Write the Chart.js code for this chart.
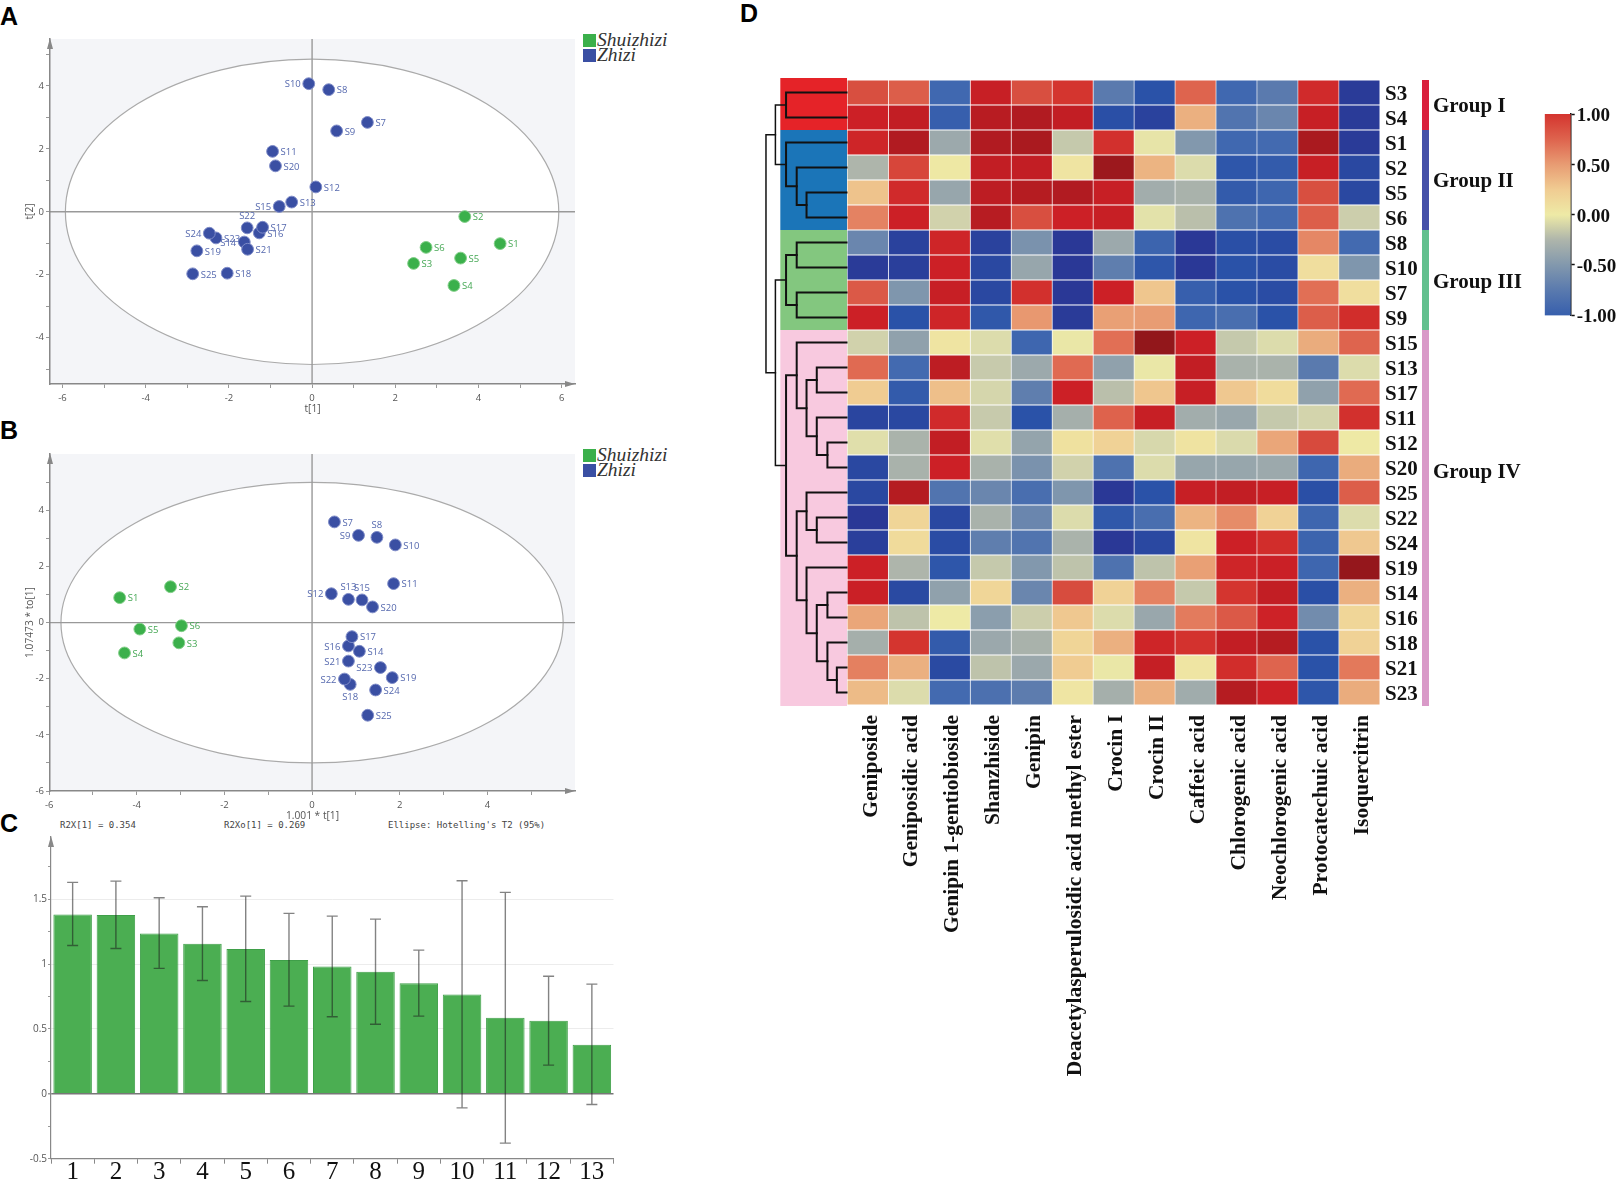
<!DOCTYPE html>
<html>
<head>
<meta charset="utf-8">
<title>PCA, VIP and heatmap</title>
<script src="https://cdn.jsdelivr.net/npm/chart.js@4/dist/chart.umd.js"></script>
<style>
  html, body { margin: 0; padding: 0; background: #fff; overflow: hidden; }
  #page { position: relative; width: 1617px; height: 1181px; overflow: hidden; }
  canvas { position: absolute; }
  .letter { position: absolute; left: 0; font: bold 25px/1 "Liberation Sans"; color: #000; }
  .swatch { position: absolute; left: 583px; width: 13px; height: 13px; }
  .leg { position: absolute; left: 597px; font: italic 19.5px/1 "Liberation Serif"; color: #333; }
  .foot { position: absolute; top: 821px; font: 9px/1.1 "DejaVu Sans Mono"; color: #444; white-space: pre; }
</style>
</head>
<body>
<div id="page">
  <div class="letter" style="top:4px">A</div>
  <div class="letter" style="top:418px">B</div>
  <div class="letter" style="top:811px">C</div>
  <div class="letter" style="top:1px;left:740px">D</div>

  <div class="swatch" style="top:34px;background:#3bb04b"></div>
  <div class="leg" style="top:30px">Shuizhizi</div>
  <div class="swatch" style="top:49px;background:#3a4fa3"></div>
  <div class="leg" style="top:45px">Zhizi</div>
  <div class="swatch" style="top:449px;background:#3bb04b"></div>
  <div class="leg" style="top:445px">Shuizhizi</div>
  <div class="swatch" style="top:464px;background:#3a4fa3"></div>
  <div class="leg" style="top:460px">Zhizi</div>

  <div class="foot" style="left:60px">R2X[1] = 0.354</div>
  <div class="foot" style="left:224px">R2Xo[1] = 0.269</div>
  <div class="foot" style="left:388px">Ellipse: Hotelling's T2 (95%)</div>

  <canvas id="chartA" width="640" height="390" style="left:24px;top:25px"></canvas>
  <canvas id="chartB" width="640" height="382" style="left:24px;top:440px"></canvas>
  <canvas id="chartC" width="620" height="351" style="left:20px;top:830px"></canvas>
  <canvas id="chartD" width="780" height="1060" style="left:760px;top:60px"></canvas>
  <canvas id="chartBar" width="117" height="230" style="left:1500px;top:100px"></canvas>
</div>

<script>
// samples in the score plots (first six are Shuizhizi)
const sampleNames = ['S1','S2','S3','S4','S5','S6','S7','S8','S9','S10','S11','S12','S13','S14','S15','S16','S17','S18','S19','S20','S21','S22','S23','S24','S25'];

// panel A: t[1], t[2]
const aT1 = [4.52,3.67,2.44,3.41,3.57,2.74,1.33,0.40,0.59,-0.08,-0.95,0.09,-0.49,-1.63,-0.79,-1.27,-1.19,-2.04,-2.77,-0.88,-1.55,-1.56,-2.31,-2.47,-2.87];
const aT2 = [-1.01,-0.15,-1.64,-2.34,-1.47,-1.13,2.84,3.88,2.57,4.07,1.92,0.79,0.31,-0.96,0.17,-0.67,-0.49,-1.95,-1.24,1.46,-1.19,-0.51,-0.83,-0.68,-1.97];
const aEllipse = [5.93, 4.85];
const aLabelSide = { S10:'left', S15:'left', S22:'top', S24:'left', S14:'left' };

// panel B: 1.001*t[1], 1.07473*to[1]
const bT1 = [-4.39,-3.23,-3.04,-4.28,-3.93,-2.98,0.51,1.48,1.06,1.90,1.86,0.44,0.83,1.08,1.14,0.83,0.91,0.87,1.83,1.38,0.83,0.74,1.56,1.45,1.27];
const bTo = [0.89,1.28,-0.72,-1.08,-0.23,-0.11,3.59,3.04,3.11,2.77,1.39,1.03,0.83,-1.02,0.81,-0.83,-0.50,-2.20,-1.96,0.56,-1.37,-2.01,-1.60,-2.40,-3.30];
const bEllipse = [5.73, 5.00];
const bLabelSide = { S12:'left', S9:'left', S16:'left', S21:'left', S23:'left', S22:'left', S8:'top', S13:'top', S15:'top', S18:'bottom' };

// panel C: VIP bars with error bars
const barLabels = ['1','2','3','4','5','6','7','8','9','10','11','12','13'];
const barValues = [1.383,1.378,1.237,1.157,1.116,1.031,0.982,0.941,0.853,0.766,0.586,0.563,0.378];
const errUpper = [1.63,1.64,1.512,1.442,1.524,1.391,1.37,1.347,1.108,1.643,1.553,0.907,0.846];
const errLower = [1.144,1.121,0.967,0.874,0.712,0.676,0.594,0.537,0.599,-0.108,-0.38,0.221,-0.082];

// panel D: heatmap
const heatCols = ['Geniposide','Geniposidic acid','Genipin 1-gentiobioside','Shanzhiside','Genipin','Deacetylasperulosidic acid methyl ester','Crocin I','Crocin II','Caffeic acid','Chlorogenic acid','Neochlorogenic acid','Protocatechuic acid','Isoquercitrin'];
const heatRows = ['S3','S4','S1','S2','S5','S6','S8','S10','S7','S9','S15','S13','S17','S11','S12','S20','S25','S22','S24','S19','S14','S16','S18','S21','S23'];
const heatValues = [
  [0.85,0.78,-0.9,1.25,0.85,1.0,-0.75,-1.15,0.75,-0.9,-0.75,1.1,-1.5],
  [1.2,1.3,-1.0,1.4,1.5,1.3,-1.2,-1.4,0.4,-0.8,-0.65,1.25,-1.5],
  [1.15,1.5,-0.35,1.5,1.6,-0.15,1.05,-0.02,-0.5,-0.9,-0.88,1.6,-1.5],
  [-0.25,0.9,0.02,1.3,1.3,0.05,1.8,0.38,-0.05,-1.1,-1.05,1.25,-1.3],
  [0.3,1.1,-0.38,1.35,1.45,1.5,1.25,-0.32,-0.28,-1.05,-0.92,0.85,-1.3],
  [0.62,1.2,-0.1,1.42,0.85,1.2,1.25,-0.03,-0.2,-0.82,-0.88,0.78,-0.12],
  [-0.65,-1.4,1.15,-1.4,-0.55,-1.55,-0.35,-0.95,-1.55,-1.2,-1.25,0.6,-0.88],
  [-1.5,-1.45,1.2,-1.3,-0.38,-1.55,-0.72,-1.1,-1.55,-1.15,-1.25,0.1,-0.52],
  [0.8,-0.52,1.25,-1.3,1.05,-1.55,1.2,0.28,-1.0,-1.15,-1.25,0.7,0.1],
  [1.2,-1.15,1.15,-1.08,0.52,-1.5,0.48,0.5,-0.92,-0.85,-1.15,0.78,1.08],
  [-0.1,-0.42,0.05,-0.05,-0.92,-0.01,0.7,1.95,1.2,-0.15,-0.05,0.42,0.75],
  [0.72,-0.88,1.35,-0.14,-0.35,0.72,-0.42,-0.01,1.3,-0.28,-0.27,-0.75,-0.05],
  [0.25,-1.05,0.32,-0.08,-0.72,1.2,-0.2,0.28,1.25,0.27,0.12,-0.42,0.72],
  [-1.35,-1.3,1.1,-0.14,-1.15,-0.3,0.76,1.25,-0.32,-0.37,-0.15,-0.09,1.05],
  [-0.04,-0.27,1.3,-0.04,-0.4,0.08,0.2,-0.07,0.06,-0.06,0.45,0.88,0.01],
  [-1.3,-0.28,1.2,-0.28,-0.55,-0.1,-0.82,-0.05,-0.38,-0.38,-0.35,-0.92,0.42],
  [-1.3,1.45,-0.8,-0.65,-0.85,-0.52,-1.55,-1.15,1.25,1.3,1.25,-1.2,0.78],
  [-1.55,0.18,-1.3,-0.28,-0.65,-0.05,-1.08,-0.85,0.38,0.58,0.2,-0.92,-0.05],
  [-1.45,0.13,-1.25,-0.72,-0.8,-0.27,-1.55,-1.3,0.05,1.2,1.08,-0.95,0.27],
  [1.2,-0.25,-1.1,-0.15,-0.5,-0.18,-0.82,-0.18,0.48,1.15,1.22,-0.92,1.9],
  [1.22,-1.28,-0.42,0.17,-0.65,0.87,0.2,0.62,-0.15,1.0,1.3,-1.2,0.4],
  [0.45,-0.18,0,-0.45,-0.12,0.27,-0.05,-0.37,0.65,0.8,1.18,-0.6,0.17],
  [-0.3,1.0,-1.05,-0.36,-0.28,0.18,0.4,1.15,1.03,1.3,1.45,-1.15,0.2],
  [0.63,0.4,-1.28,-0.18,-0.36,0.25,-0.01,1.27,0.04,1.08,0.75,-1.15,0.66],
  [0.34,-0.05,-0.88,-0.83,-0.73,0.04,-0.3,0.4,-0.33,1.45,1.2,-1.1,0.42]
];

// row groups beside the heatmap
const groupNames = ['Group I','Group II','Group III','Group IV'];
const groupFirst = [0,2,6,10];
const groupLast = [1,5,9,24];
const groupLabelRow = [0.5,3.5,7.54,15.14];
const groupBlock = ['#e52328','#1b75b8','#83c77f','#f8c9df'];
const groupStrip = ['#d91f3c','#4550a8','#62c08e','#d99ac8'];

// dendrogram: [height, child, child], a number is a row of heatRows
const tree = [-1.99,
  [-1.76,
    [-1.5, 0, 1],
    [-1.5, 2, [-1.24, 3, [-1.0, 4, 5]]]],
  [-1.76,
    [-1.5, [-1.24, 6, 7], [-1.24, 8, 9]],
    [-1.5,
      [-1.24, 10, [-1.0, [-0.75, 11, 12], [-0.75, 13, [-0.49, 14, 15]]]],
      [-1.24,
        [-1.0, 16, [-0.75, 17, 18]],
        [-1.0, 19, [-0.75, [-0.49, 20, 21], [-0.49, 22, [-0.26, 23, 24]]]]]]]];

// colour scale of the heatmap
const scaleValues = [-1.55,-1.15,-0.9,-0.75,-0.5,-0.25,-0.05,0,0.12,0.25,0.4,0.58,0.72,0.85,1,1.2,1.4,1.95];
const scaleColors = ['#2a3896','#2a52a8','#4068b0','#5a7aae','#8298ad','#aeb5ab','#dcdcac','#eeeaa6','#f0dc9c','#f0cc92','#ebb080','#e68c68','#e06a52','#d84f40','#d4352f','#cc2026','#b81c22','#92171b'];

function heatColor(v) {
  let i = 0;
  while (i < scaleValues.length - 2 && v > scaleValues[i + 1]) i++;
  const t = Math.min(1, Math.max(0, (v - scaleValues[i]) / (scaleValues[i + 1] - scaleValues[i])));
  const a = scaleColors[i], b = scaleColors[i + 1];
  const ch = p => Math.round(parseInt(a.substr(p, 2), 16) * (1 - t) + parseInt(b.substr(p, 2), 16) * t);
  return `rgb(${ch(1)},${ch(3)},${ch(5)})`;
}

const smallFont = { family: 'Open Sans', size: 9.5 };
const titleFont = { family: 'Open Sans', size: 10.2 };
const green = '#3bb04b', blue = '#3a4fa3';

// background, ellipse, zero lines, arrows and sample labels of the score plots
const scorePlot = {
  id: 'scorePlot',
  beforeDraw(chart, args, opts) {
    const { ctx, chartArea: a, scales: { x, y } } = chart;
    const cx = x.getPixelForValue(0), cy = y.getPixelForValue(0);
    ctx.save();
    ctx.fillStyle = '#f4f5f8';
    ctx.fillRect(a.left, a.top, a.right - a.left, a.bottom - a.top);
    ctx.beginPath();
    ctx.ellipse(cx, cy, x.getPixelForValue(opts.ellipse[0]) - cx, cy - y.getPixelForValue(opts.ellipse[1]), 0, 0, Math.PI * 2);
    ctx.fillStyle = '#fff';
    ctx.fill();
    ctx.strokeStyle = '#aaa';
    ctx.lineWidth = 1.2;
    ctx.stroke();
    ctx.strokeStyle = '#999';
    ctx.lineWidth = 1.4;
    ctx.beginPath();
    ctx.moveTo(a.left, cy); ctx.lineTo(a.right, cy);
    ctx.moveTo(cx, a.top); ctx.lineTo(cx, a.bottom);
    ctx.stroke();
    ctx.restore();
  },
  afterDatasetsDraw(chart, args, opts) {
    const { ctx, chartArea: a } = chart;
    ctx.save();
    axisArrows(ctx, a, true);
    ctx.font = '9.5px "Open Sans"';
    chart.data.datasets.forEach((ds, d) => {
      ctx.fillStyle = ds.textColor;
      chart.getDatasetMeta(d).data.forEach((pt, i) => {
        const name = ds.names[i], side = opts.sides[name] || 'right';
        let tx = pt.x + 8, ty = pt.y + 1;
        ctx.textBaseline = 'middle';
        ctx.textAlign = 'left';
        if (side === 'left') { tx = pt.x - 8; ctx.textAlign = 'right'; }
        if (side === 'top') { tx = pt.x; ty = pt.y - 12; ctx.textAlign = 'center'; }
        if (side === 'bottom') { tx = pt.x; ty = pt.y + 13; ctx.textAlign = 'center'; }
        ctx.fillText(name, tx, ty);
      });
    });
    ctx.restore();
  }
};

function axisArrows(ctx, a, both) {
  ctx.fillStyle = '#888';
  ctx.beginPath();
  ctx.moveTo(a.left, a.top - 1); ctx.lineTo(a.left - 3, a.top + 10); ctx.lineTo(a.left + 3, a.top + 10);
  ctx.closePath();
  if (both) {
    ctx.moveTo(a.right, a.bottom); ctx.lineTo(a.right - 10, a.bottom - 3); ctx.lineTo(a.right - 10, a.bottom + 3);
    ctx.closePath();
  }
  ctx.fill();
}

function scoreChart(id, xs, ys, cfg) {
  const makeData = (from, to) => xs.slice(from, to).map((v, i) => ({ x: v, y: ys[from + i] }));
  const dataset = (label, from, to, fill, edge, text) => ({
    label, data: makeData(from, to), names: sampleNames.slice(from, to),
    backgroundColor: fill, borderColor: edge, borderWidth: 1, pointRadius: 5.9, textColor: text
  });
  return new Chart(document.getElementById(id), {
    type: 'scatter',
    data: { datasets: [
      dataset('Shuizhizi', 0, 6, green, '#82cf88', '#46a855'),
      dataset('Zhizi', 6, 25, blue, '#7f8cc8', '#5568ae')
    ] },
    plugins: [scorePlot],
    options: {
      responsive: false,
      animation: false,
      layout: { padding: { top: cfg.padTop, right: 89, left: 0, bottom: 0 } },
      plugins: {
        legend: { display: false }, tooltip: { enabled: false },
        scorePlot: { ellipse: cfg.ellipse, sides: cfg.sides }
      },
      scales: {
        x: {
          min: cfg.xMin, max: cfg.xMax,
          afterBuildTicks: ax => { ax.ticks = cfg.xTicks.map(v => ({ value: v })); },
          afterFit: ax => { ax.height = cfg.xHeight; },
          title: { display: true, text: cfg.xTitle, color: '#555', font: titleFont, padding: 0 },
          grid: { drawOnChartArea: false, tickLength: 4, tickColor: '#999' },
          border: { color: '#888', width: 1.5 },
          ticks: { color: '#555', font: smallFont, padding: 5, autoSkip: false, maxRotation: 0, callback: v => (v % 2 === 0 ? v : '') }
        },
        y: {
          min: cfg.yMin, max: cfg.yMax,
          afterBuildTicks: ax => { ax.ticks = cfg.yTicks.map(v => ({ value: v })); },
          afterFit: ax => { ax.width = 26; },
          title: { display: true, text: cfg.yTitle, color: '#555', font: titleFont, padding: 0 },
          grid: { drawOnChartArea: false, tickLength: 4, tickColor: '#999' },
          border: { color: '#888', width: 1.5 },
          ticks: { color: '#555', font: smallFont, padding: 2, autoSkip: false, callback: v => (v % 2 === 0 ? v : '') }
        }
      }
    }
  });
}

scoreChart('chartA', aT1, aT2, {
  padTop: 14, xHeight: 31, xMin: -6.3, xMax: 6.32, yMin: -5.47, yMax: 5.49,
  xTicks: [-6,-5,-4,-3,-2,-1,0,1,2,3,4,5,6], yTicks: [-5,-4,-3,-2,-1,0,1,2,3,4,5],
  xTitle: 't[1]', yTitle: 't[2]', ellipse: aEllipse, sides: aLabelSide
});

scoreChart('chartB', bT1, bTo, {
  padTop: 14, xHeight: 31, xMin: -5.98, xMax: 6.0, yMin: -6, yMax: 6.01,
  xTicks: [-6,-5,-4,-3,-2,-1,0,1,2,3,4,5], yTicks: [-6,-5,-4,-3,-2,-1,0,1,2,3,4,5],
  xTitle: '1.001 * t[1]', yTitle: '1.07473 * to[1]', ellipse: bEllipse, sides: bLabelSide
});

// error bars and arrow of panel C
const errorBars = {
  id: 'errorBars',
  afterDatasetsDraw(chart) {
    const { ctx, chartArea: a, scales: { x, y } } = chart;
    ctx.save();
    ctx.strokeStyle = 'rgba(30,30,30,0.55)';
    ctx.lineWidth = 1.4;
    barValues.forEach((v, i) => {
      const px = x.getPixelForValue(i), up = y.getPixelForValue(errUpper[i]), lo = y.getPixelForValue(errLower[i]);
      ctx.beginPath();
      ctx.moveTo(px, up); ctx.lineTo(px, lo);
      ctx.moveTo(px - 5.5, up); ctx.lineTo(px + 5.5, up);
      ctx.moveTo(px - 5.5, lo); ctx.lineTo(px + 5.5, lo);
      ctx.stroke();
    });
    axisArrows(ctx, a, false);
    ctx.restore();
  }
};

new Chart(document.getElementById('chartC'), {
  type: 'bar',
  data: {
    labels: barLabels,
    datasets: [{ data: barValues, backgroundColor: '#4bae52', borderColor: '#3f9f49', borderWidth: 1, barPercentage: 0.89, categoryPercentage: 1 }]
  },
  plugins: [errorBars],
  options: {
    responsive: false,
    animation: false,
    layout: { padding: { top: 6.7, right: 26.5, left: 0, bottom: 0 } },
    plugins: { legend: { display: false }, tooltip: { enabled: false } },
    scales: {
      x: {
        afterFit: ax => { ax.height = 22.3; },
        grid: { drawOnChartArea: false, tickLength: 5, tickColor: '#888' },
        border: { color: '#888', width: 1.2 },
        ticks: { color: '#111', font: { family: 'Liberation Serif', size: 25 }, padding: -6, maxRotation: 0, autoSkip: false }
      },
      y: {
        min: -0.5, max: 1.98,
        afterBuildTicks: ax => { ax.ticks = [-0.5,-0.25,0,0.25,0.5,0.75,1,1.25,1.5,1.75].map(v => ({ value: v })); },
        afterFit: ax => { ax.width = 31; },
        grid: {
          tickLength: 3, tickColor: '#999',
          color: c => (c.tick.value === 0 ? '#777' : ([0.5, 1, 1.5].includes(c.tick.value) ? '#ececec' : 'transparent')),
          lineWidth: c => (c.tick.value === 0 ? 1.5 : 1)
        },
        border: { color: '#888', width: 1.2 },
        ticks: { color: '#555', font: { family: 'Open Sans', size: 10 }, padding: 1, autoSkip: false, callback: v => (v * 2 % 1 === 0 ? v : '') }
      }
    }
  }
});

// colour blocks, dendrogram, side strip and group names of panel D
const heatDecor = {
  id: 'heatDecor',
  afterDatasetsDraw(chart) {
    const { ctx, chartArea: a, scales: { x, y } } = chart;
    const step = y.getPixelForValue(1) - y.getPixelForValue(0);
    const colLeft = x.getPixelForValue(-1.64), colRight = x.getPixelForValue(0) - 0.5;
    ctx.save();
    groupNames.forEach((name, g) => {
      const top = y.getPixelForValue(groupFirst[g]) - step / 2;
      const bottom = y.getPixelForValue(groupLast[g]) + step / 2;
      const extraTop = g === 0 ? 2 : 0, extraBottom = g === 3 ? 1 : 0;
      ctx.fillStyle = groupBlock[g];
      ctx.fillRect(colLeft, top - extraTop, colRight - colLeft, bottom - top + extraTop + extraBottom);
      ctx.fillStyle = groupStrip[g];
      ctx.fillRect(a.right + 42, top, 7, bottom - top + extraBottom);
      ctx.fillStyle = '#111';
      ctx.font = 'bold 21px "Liberation Serif"';
      ctx.textBaseline = 'middle';
      ctx.textAlign = 'left';
      ctx.fillText(name, a.right + 53, y.getPixelForValue(groupLabelRow[g]) + 2);
    });
    ctx.strokeStyle = '#111';
    ctx.lineCap = 'square';
    const drawNode = (node, depth) => {
      if (typeof node === 'number') return { px: x.getPixelForValue(0) - 1, py: y.getPixelForValue(node) };
      const hx = x.getPixelForValue(node[0]);
      const c1 = drawNode(node[1], depth + 1), c2 = drawNode(node[2], depth + 1);
      ctx.lineWidth = depth < 2 ? 1.5 : 2;
      ctx.beginPath();
      ctx.moveTo(c1.px, c1.py); ctx.lineTo(hx, c1.py); ctx.lineTo(hx, c2.py); ctx.lineTo(c2.px, c2.py);
      ctx.stroke();
      return { px: hx, py: (c1.py + c2.py) / 2 };
    };
    drawNode(tree, 0);
    ctx.restore();
  }
};

new Chart(document.getElementById('chartD'), {
  type: 'bar',
  data: {
    labels: heatRows,
    datasets: heatCols.map((name, c) => ({
      label: name,
      data: heatRows.map(() => 1),
      backgroundColor: heatValues.map(row => heatColor(row[c])),
      borderColor: '#fff',
      borderWidth: 0.8,
      barPercentage: 1,
      categoryPercentage: 1
    }))
  },
  plugins: [heatDecor],
  options: {
    indexAxis: 'y',
    responsive: false,
    animation: false,
    layout: { padding: { top: 20, right: 110, left: 0, bottom: 0 } },
    plugins: { legend: { display: false }, tooltip: { enabled: false } },
    scales: {
      x: {
        stacked: true,
        min: -2.136, max: 13,
        afterBuildTicks: ax => { ax.ticks = heatCols.map((n, i) => ({ value: i + 0.5 })); },
        afterFit: ax => { ax.height = 415; },
        grid: { display: false, drawTicks: false },
        border: { display: false },
        ticks: {
          color: '#111', font: { family: 'Liberation Serif', size: 21.5, weight: 'bold' }, padding: 10,
          minRotation: 90, maxRotation: 90, autoSkip: false, labelOffset: 3,
          callback: (v, i) => heatCols[i]
        }
      },
      y: {
        position: 'right',
        stacked: true,
        afterFit: ax => { ax.width = 50; },
        grid: { display: false, drawTicks: false },
        border: { display: false },
        ticks: { color: '#111', font: { family: 'Liberation Serif', size: 21, weight: 'bold' }, padding: 5, autoSkip: false, labelOffset: 2 }
      }
    }
  }
});

// colour bar of panel D
new Chart(document.getElementById('chartBar'), {
  type: 'bar',
  data: {
    labels: [''],
    datasets: [{
      data: [[-1, 1]],
      barPercentage: 1,
      categoryPercentage: 1,
      backgroundColor: c => {
        const area = c.chart.chartArea;
        if (!area) return '#ccc';
        const y = c.chart.scales.y;
        const grad = c.chart.ctx.createLinearGradient(0, y.getPixelForValue(-1), 0, y.getPixelForValue(1));
        [-1, -0.75, -0.5, -0.25, 0, 0.25, 0.5, 0.75, 1].forEach(v => grad.addColorStop((v + 1) / 2, heatColor(v)));
        return grad;
      }
    }]
  },
  options: {
    responsive: false,
    animation: false,
    layout: { padding: { top: 13.3, right: 0, left: 44.7, bottom: 14.3 } },
    plugins: { legend: { display: false }, tooltip: { enabled: false } },
    scales: {
      x: { display: false },
      y: {
        position: 'right',
        min: -1.005, max: 1.01,
        afterBuildTicks: ax => { ax.ticks = [-1,-0.5,0,0.5,1].map(v => ({ value: v })); },
        afterFit: ax => { ax.width = 46.3; },
        grid: { drawOnChartArea: false, tickLength: 4, tickColor: '#111', tickWidth: 1.5 },
        border: { color: '#111', width: 1.5 },
        ticks: { color: '#111', font: { family: 'Liberation Serif', size: 19, weight: 'bold' }, padding: 2, autoSkip: false, labelOffset: 2, callback: v => v.toFixed(2) }
      }
    }
  }
});
</script>
</body>
</html>
